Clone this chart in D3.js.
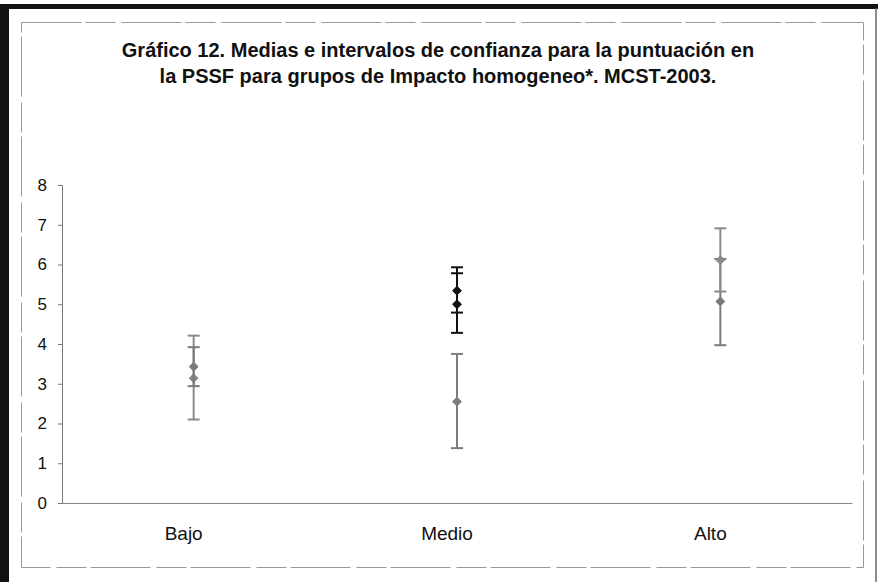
<!DOCTYPE html>
<html>
<head>
<meta charset="utf-8">
<script src="https://cdn.jsdelivr.net/npm/d3@7"></script>
<style>
  body { margin: 0; background: #fff; }
  svg text { font-family: Arial, "Liberation Sans", sans-serif; fill: #111; }
</style>
</head>
<body>
<svg id="chart" width="878" height="582"></svg>
<script>
// categories on the x axis
const categories = ["Bajo", "Medio", "Alto"];

// one entry per interval drawn (mean + confidence interval)
const groupIds      = ["b1", "b2", "m1", "m2", "m3", "a1", "a2"];
const groupCategory = ["Bajo", "Bajo", "Medio", "Medio", "Medio", "Alto", "Alto"];
const means         = [3.14, 3.43, 5.34, 5.00, 2.55, 5.07, 6.11];
const lowers        = [2.10, 2.94, 4.79, 4.28, 1.38, 3.97, 5.32];
const uppers        = [4.21, 3.92, 5.93, 5.78, 3.75, 6.14, 6.91];

const yTicks = [0, 1, 2, 3, 4, 5, 6, 7, 8];

const titleLines = [
  "Gráfico 12. Medias e intervalos de confianza para la puntuación en",
  "la PSSF para grupos de Impacto homogeneo*. MCST-2003."
];

const data = groupIds.map((id, i) => ({
  id: id,
  cat: groupCategory[i],
  mean: means[i],
  lo: lowers[i],
  hi: uppers[i]
}));

const svg = d3.select("#chart");

// frame (scanned page look)
svg.append("rect").attr("x", 0).attr("y", 4).attr("width", 878).attr("height", 5).attr("fill", "#111");
svg.append("rect").attr("x", 0).attr("y", 4).attr("width", 9).attr("height", 578).attr("fill", "#111");
svg.append("line").attr("x1", 876).attr("x2", 876).attr("y1", 8).attr("y2", 582)
  .attr("stroke", "#666").attr("stroke-width", 1.5);
svg.append("rect")
  .attr("x", 21.5).attr("y", 22.5).attr("width", 842).attr("height", 545)
  .attr("fill", "none").attr("stroke", "#999").attr("stroke-width", 1)
  .attr("stroke-dasharray", "60,4,30,6");

// title
svg.append("g").selectAll("text")
  .data(titleLines)
  .join("text")
  .attr("x", 438)
  .attr("y", (d, i) => 57 + i * 26)
  .attr("text-anchor", "middle")
  .attr("font-size", 20)
  .attr("font-weight", "bold")
  .text(d => d);

const margin = { left: 62, right: 26, top: 185, bottom: 79 };
const x = d3.scaleBand().domain(categories).range([margin.left, 878 - margin.right]);
const y = d3.scaleLinear().domain([0, 8]).range([582 - margin.bottom, margin.top]);

// y axis
const yAxis = svg.append("g")
  .attr("transform", `translate(${margin.left},0)`)
  .call(d3.axisLeft(y).tickValues(yTicks).tickSize(4).tickPadding(11).tickFormat(d3.format("d")));
yAxis.select(".domain").attr("stroke", "#777");
yAxis.selectAll(".tick line").attr("stroke", "#777");
yAxis.selectAll("text").attr("font-size", 17).attr("fill", "#111");

// x axis
const xAxis = svg.append("g")
  .attr("transform", `translate(0,${y(0)})`)
  .call(d3.axisBottom(x).tickSize(0).tickPadding(24));
xAxis.select(".domain").attr("stroke", "#888");
xAxis.selectAll("text").attr("font-size", 19).attr("fill", "#111").attr("dx", -10);

const color = d3.scaleOrdinal()
  .domain(groupIds)
  .range(["#8a8a8a", "#7a7a7a", "#111", "#111", "#7d7d7d", "#7a7a7a", "#8a8a8a"]);

const cx = d => x(d.cat) + x.bandwidth() / 2;
const capW = 6;

const bars = svg.append("g").selectAll("g")
  .data(data)
  .join("g")
  .attr("stroke", d => color(d.id))
  .attr("fill", d => color(d.id));

bars.append("line")
  .attr("x1", cx).attr("x2", cx)
  .attr("y1", d => y(d.lo)).attr("y2", d => y(d.hi))
  .attr("stroke-width", 2);

bars.append("line")
  .attr("x1", d => cx(d) - capW).attr("x2", d => cx(d) + capW)
  .attr("y1", d => y(d.hi)).attr("y2", d => y(d.hi))
  .attr("stroke-width", 2);

bars.append("line")
  .attr("x1", d => cx(d) - capW).attr("x2", d => cx(d) + capW)
  .attr("y1", d => y(d.lo)).attr("y2", d => y(d.lo))
  .attr("stroke-width", 2);

bars.append("path")
  .attr("transform", d => `translate(${cx(d)},${y(d.mean)})`)
  .attr("d", d3.symbol(d3.symbolDiamond2, 50))
  .attr("stroke-width", 1);
</script>
</body>
</html>
